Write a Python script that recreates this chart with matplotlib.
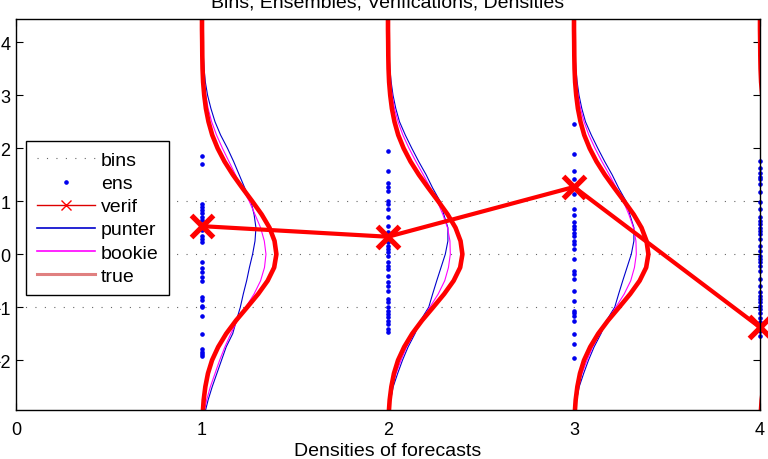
import matplotlib
matplotlib.use("Agg")
import matplotlib.pyplot as plt
from matplotlib.lines import Line2D
import numpy as np

plt.rcParams['font.family'] = ['Liberation Sans', 'DejaVu Sans']

# forecast positions and bin edges
cols = [1, 2, 3, 4]
bins = [-1, 0, 1]

# ensemble members for each forecast
ens1 = [1.85, 1.70, 0.94, 0.89, 0.83, 0.77, 0.71, 0.65, 0.55, 0.45, 0.34, 0.28, 0.23,
        -0.15, -0.26, -0.34, -0.43, -0.51, -0.81, -0.87, -0.98, -1.00, -1.17, -1.51,
        -1.79, -1.85, -1.89, -1.92]
ens2 = [1.95, 1.57, 1.35, 1.26, 1.19, 1.00, 0.94, 0.85, 0.70, 0.53, 0.42, 0.35, 0.28,
        0.23, 0.16, 0.09, 0.04, -0.03, -0.15, -0.22, -0.28, -0.41, -0.53, -0.60, -0.69,
        -0.85, -0.91, -1.00, -1.07, -1.13, -1.19, -1.26, -1.32, -1.42, -1.47]
ens3 = [2.45, 1.89, 1.57, 1.42, 1.26, 1.13, 0.85, 0.75, 0.60, 0.53, 0.47, 0.41, 0.35,
        0.25, 0.19, 0.09, -0.09, -0.31, -0.38, -0.47, -0.69, -0.88, -1.07, -1.10, -1.16,
        -1.26, -1.51, -1.70, -1.95]
ens4 = [1.76, 1.62, 1.54, 1.45, 1.42, 1.32, 1.17, 0.98, 0.85, 0.70, 0.63, 0.57, 0.50,
        0.44, 0.38, 0.28, 0.16, 0.06, -0.03, -0.09, -0.15, -0.22, -0.31, -0.47, -0.60,
        -0.72, -0.79, -0.85, -0.91, -0.98, -1.04, -1.10, -1.20, -1.28, -1.45, -1.55]

# verifications
verif = [0.53, 0.33, 1.27, -1.38]

# density levels (y) and density widths
levels = [-3.0, -2.75, -2.5, -2.25, -2.0, -1.75, -1.5, -1.25, -1.0, -0.75, -0.5, -0.25,
          0.0, 0.25, 0.5, 0.75, 1.0, 1.25, 1.5, 1.75, 2.0, 2.25, 2.5, 2.75, 3.0, 3.25,
          3.5, 3.75, 4.0, 4.25, 4.5]
true_d = [0.004, 0.009, 0.018, 0.032, 0.054, 0.087, 0.130, 0.183, 0.243, 0.302, 0.353,
          0.388, 0.400, 0.390, 0.363, 0.321, 0.270, 0.217, 0.166, 0.121, 0.084, 0.055,
          0.035, 0.021, 0.012, 0.006, 0.003, 0.0016, 0.001, 0.0, 0.0]
punter_a = [0.015, 0.033, 0.055, 0.080, 0.105, 0.130, 0.165, 0.185, 0.206, 0.222, 0.240,
            0.255, 0.272, 0.285, 0.290, 0.280, 0.263, 0.230, 0.200, 0.170, 0.137, 0.100,
            0.070, 0.048, 0.030, 0.018, 0.011, 0.007, 0.004, 0.002, 0.001]
punter_b = [0.006, 0.014, 0.028, 0.052, 0.078, 0.108, 0.145, 0.175, 0.219, 0.240, 0.262,
            0.285, 0.308, 0.322, 0.322, 0.300, 0.280, 0.240, 0.205, 0.165, 0.128, 0.093,
            0.062, 0.042, 0.027, 0.017, 0.010, 0.006, 0.003, 0.002, 0.001]
bookie_a = [0.010, 0.025, 0.045, 0.070, 0.095, 0.123, 0.155, 0.190, 0.235, 0.280, 0.315,
            0.336, 0.344, 0.335, 0.315, 0.285, 0.254, 0.215, 0.180, 0.145, 0.110, 0.078,
            0.052, 0.033, 0.020, 0.012, 0.007, 0.004, 0.002, 0.001, 0.0]
bookie_b = [0.003, 0.010, 0.022, 0.043, 0.070, 0.100, 0.140, 0.180, 0.225, 0.270, 0.305,
            0.325, 0.335, 0.333, 0.320, 0.295, 0.265, 0.228, 0.190, 0.150, 0.113, 0.080,
            0.054, 0.035, 0.022, 0.013, 0.008, 0.004, 0.002, 0.001, 0.0]
punter = [punter_a, punter_b, punter_b, punter_b]
bookie = [bookie_a, bookie_b, bookie_b, bookie_b]

fig = plt.figure(figsize=(7.68, 4.6), dpi=100)
ax = fig.add_axes([16/768, 49/460, 744/768, 391/460])

for b in bins:
    ax.axhline(b, color='#666666', lw=0.8, ls=(0, (1, 7.5)))

ens = [ens1, ens2, ens3, ens4]
for c, e in zip(cols, ens):
    ax.plot([c]*len(e), e, ls='none', marker='o', ms=2.3, color='#0000ee',
            mec='#0000ee', clip_on=False)

lev = np.array(levels)
for i, c in enumerate(cols):
    ax.plot(c + np.array(punter[i]), lev, color='#0000cc', lw=0.8)
    ax.plot(c + np.array(bookie[i]), lev, color='#ff00ff', lw=0.8)
    ax.plot(c + np.array(true_d), lev, color='#ff0000', lw=3.3)

ax.plot(cols, verif, color='#ff0000', lw=3, marker='x', ms=16, mew=3.8, clip_on=False)

ax.set_xlim(0, 4)
ax.set_ylim(-2.94, 4.44)
ax.set_xticks([0, 1, 2, 3, 4])
ax.set_yticks([-2, -1, 0, 1, 2, 3, 4])
ax.tick_params(direction='in', length=5, labelsize=13, top=True, right=True)
ax.tick_params(axis='x', pad=8)
ax.tick_params(axis='y', pad=4)
for s in ax.spines.values():
    s.set_linewidth(1.0)

ax.set_xlabel('Densities of forecasts', fontsize=14, labelpad=2.5)
ax.set_title('Bins, Ensembles, Verifications, Densities', fontsize=14, pad=9)

handles = [
    Line2D([], [], color='#666666', lw=0.8, ls=(0, (1, 7.5))),
    Line2D([], [], ls='none', marker='o', ms=2.3, color='#0000ee'),
    Line2D([], [], color='#dd0000', lw=1, marker='x', ms=7, mew=1, mec='#ff0000'),
    Line2D([], [], color='#0000cc', lw=1.2),
    Line2D([], [], color='#ff00ff', lw=1.2),
    Line2D([], [], color='#e08080', lw=2.2),
]
labels = ['bins', 'ens', 'verif', 'punter', 'bookie', 'true']
leg = ax.legend(handles, labels, loc='upper left', bbox_to_anchor=(0.0134, 0.688),
                borderaxespad=0, fontsize=14, handlelength=3.0, handletextpad=0.3,
                labelspacing=0.28, borderpad=0.55, fancybox=False, framealpha=1,
                edgecolor='black')
leg.get_frame().set_linewidth(1.0)

fig.savefig('out.png', dpi=100)
